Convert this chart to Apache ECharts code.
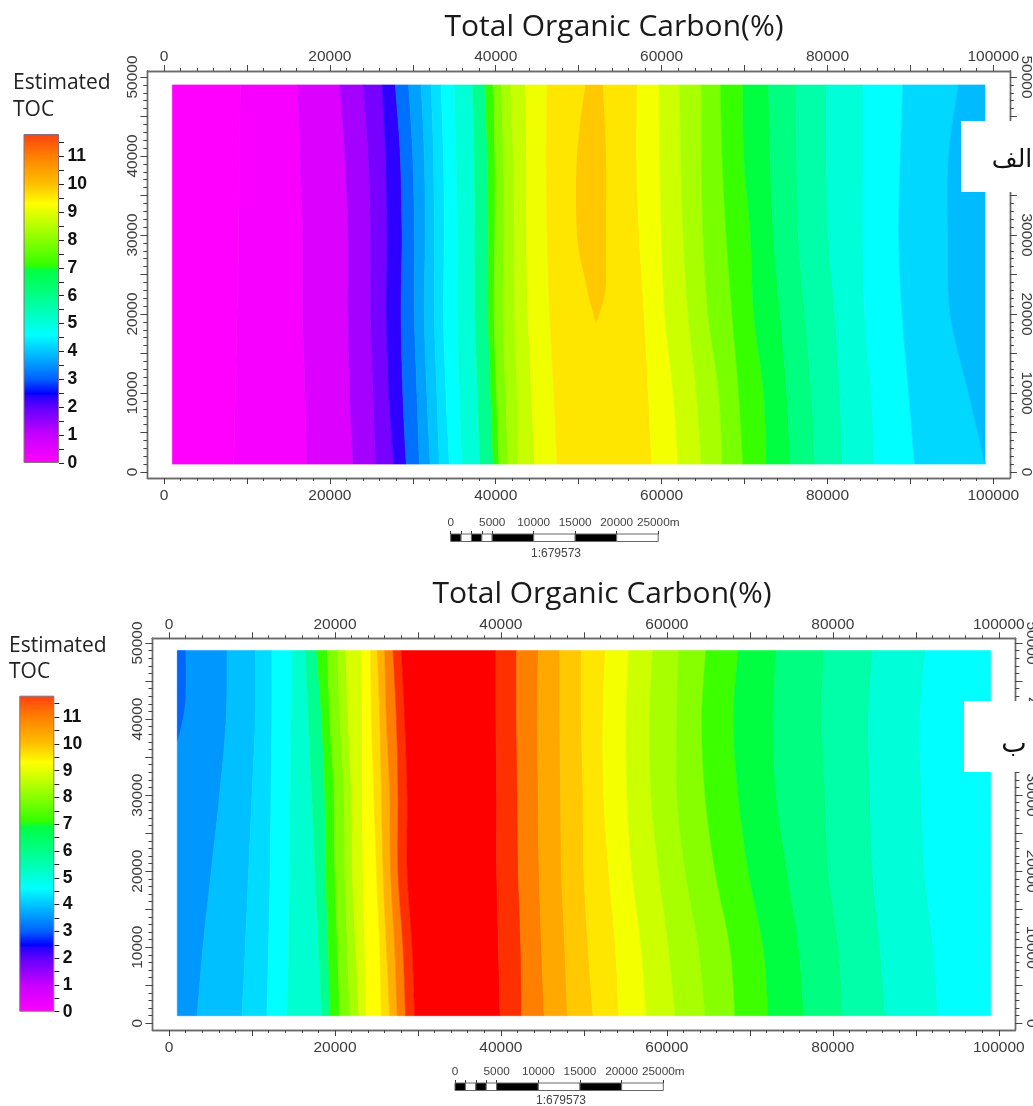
<!DOCTYPE html>
<html><head><meta charset="utf-8">
<style>html,body{margin:0;padding:0;background:#fff}#c{width:1033px;height:1106px}</style>
<script src="https://cdn.jsdelivr.net/npm/echarts@6/dist/echarts.min.js"></script>
</head><body><div id="c"></div>
<script>
// ---------- axis ticks ----------
const xTickLabels = [0,20000,40000,60000,80000,100000];
const xMajorTicks = [0,10000,20000,30000,40000,50000,60000,70000,80000,90000,100000];
const yTickLabels = [0,10000,20000,30000,40000,50000];
const yMajorTicks = [0,5000,10000,15000,20000,25000,30000,35000,40000,45000,50000];
const xMinorTicks = []; for (let v = 0; v <= 100000; v += 2000) xMinorTicks.push(v);
const yMinorTicks = []; for (let v = 0; v <= 50000; v += 1000) yMinorTicks.push(v);
const legendLabels = [0,1,2,3,4,5,6,7,8,9,10,11];
const legendTicks = [0,0.5,1,1.5,2,2.5,3,3.5,4,4.5,5,5.5,6,6.5,7,7.5,8,8.5,9,9.5,10,10.5,11,11.5];
const legendTop = 11.8;
const legendStopValues = [0,1,2,2.42,2.48,3,3.7,4.6,6,6.9,7.1,8,8.7,9.3,10,11,11.8];
const legendStopColors = ['#ff00ff','#c800ff','#6000ff','#2000ff','#0000ff','#0060ff','#00a8ff','#00ffff','#00ff88','#00ff44','#33ff00','#88ff00','#c8ff00','#ffff00','#ffc000','#ff8000','#ff4010'];
const scaleEdges = [0,1250,2500,3750,5000,10000,15000,20000,25000];
const scaleFills = ['#000','#fff','#000','#fff','#000','#fff','#000','#fff'];
const scaleLabels = [0,5000,10000,15000,20000,25000];
const scaleTicks = [0,1250,2500,3750,5000,10000,15000,20000,25000];

// ---------- contour rows ----------
const contourRows = [1000,10000,20000,30000,40000,49000];
const xStart = [1000,1000,1000,1000,1000,1000];
const xEnd = [99000,99000,99000,99000,99000,99000];

// ---------- panel A (top) band colours and boundaries ----------
const colorsA = ['#ff00ff','#f800ff','#dc00ff','#a500ff','#7700ff','#2d00ff','#0070ff','#00a0ff','#00c4ff','#00e0ff','#00ffff','#00ffd8','#00ff90','#33ff00','#80ff00','#a8ff00','#c8ff00','#f0ff00','#ffe600','#f4ff00','#ccff00','#a8ff00','#78ff00','#38ff00','#00ff40','#00ff80','#00ffa8','#00ffd8','#00ffff','#00d8ff','#00bcff'];
const edgesA = [
 xStart,
 [8400,8600,8800,9000,9100,9200],
 [17200,17000,16700,16700,16400,16100],
 [22800,22400,22200,22200,21800,21200],
 [25500,25200,24900,24900,24600,24000],
 [27700,27100,26800,26900,26700,26300],
 [29200,28800,28600,28700,28500,27900],
 [30800,30500,30200,30200,30000,29500],
 [32100,31700,31400,31500,31400,31000],
 [33200,32900,32600,32600,32500,32200],
 [34400,34000,33700,33800,33700,33400],
 [35900,35600,35400,35400,35200,35000],
 [38100,37800,37500,37500,37400,37200],
 [39700,39400,39100,39100,39000,38700],
 [40400,40100,39800,39900,39900,39700],
 [41500,41200,40900,41000,40900,40700],
 [42700,42600,42300,42300,42100,41800],
 [44700,44300,43900,43700,43700,43600],
 [47400,47000,46500,46200,46100,46200],
 [58800,58400,57900,57300,57000,57100],
 [62000,61400,60400,60000,59800,59700],
 [64800,64200,63200,62600,62300,62200],
 [67300,66900,65600,65000,64800,64800],
 [69800,69300,68500,67800,67300,67100],
 [72600,72300,71100,70700,69900,69800],
 [75500,75100,74300,73500,73100,72900],
 [78500,78100,77300,76500,76300,76200],
 [81800,81500,80900,80100,79900,79900],
 [85700,85300,84500,84300,84300,84300],
 [90500,89800,89000,88600,88800,89100],
 [99000,97000,94800,94500,94600,95800],
 xEnd
];
const lensAColor = '#ffc800';
const lensARows = [18800,21800,24300,30000,40000,49000];
const lensALeft = [52100,51300,50800,49800,49800,50800];
const lensARight = [52100,53000,53300,53300,53300,52900];

// ---------- panel B (bottom) band colours and boundaries ----------
const colorsB = ['#0098ff','#00c0ff','#00dcff','#00ffff','#00ffd0','#00ff90','#33ff00','#80ff00','#a8ff00','#d8ff00','#ffff00','#ffdc00','#ffb000','#ff8000','#ff3000','#ff0000','#ff3000','#ff8000','#ffa800','#ffc800','#ffe600','#f4ff00','#ccff00','#a8ff00','#88ff00','#3cff00','#00ff40','#00ff80','#00ffa8','#00ffd8','#00ffff'];
const edgesB = [
 xStart,
 [3400,4100,5100,6100,6900,7000],
 [8800,9200,9600,10000,10400,10400],
 [11800,12000,12200,12300,12400,12400],
 [14200,14400,14500,14600,14700,14800],
 [18400,18000,17600,17200,16800,16400],
 [19400,19200,18900,18800,18400,17800],
 [20600,20300,20000,19900,19400,19100],
 [21800,21500,21200,21100,20600,20300],
 [22900,22500,22100,22000,21600,21300],
 [23800,23600,23400,23300,23300,23200],
 [25600,25400,25000,24700,24400,24300],
 [26600,26200,25800,25600,25400,25100],
 [27500,27200,26700,26600,26200,26000],
 [28500,28200,27600,27600,27400,27000],
 [29600,29300,28700,28700,28400,28000],
 [39900,39700,39500,39500,39400,39400],
 [42500,42400,42100,42000,41900,41900],
 [45200,44900,44600,44500,44400,44500],
 [48000,47700,47300,47200,47100,47100],
 [51100,50500,50000,49900,49700,49700],
 [54200,53800,53000,52400,52300,52600],
 [57500,56900,55800,55200,55100,55400],
 [61000,60200,59000,58100,57900,58300],
 [64600,63800,62200,61200,61200,61400],
 [68200,67600,65800,64600,64200,64700],
 [72200,71600,69800,68600,68000,68600],
 [76500,75900,74500,73200,72800,73200],
 [81200,80700,79500,79100,78700,78900],
 [86300,85700,84800,84500,84300,84800],
 [92700,92100,91100,90700,90500,91200],
 xEnd
];
const lensBColor = '#0064ff';
const lensBRows = [37000,40000,43000,49000];
const lensBLeft = [1000,1000,1000,1000];
const lensBRight = [1000,1650,2000,2000];

const titleText = 'Total Organic Carbon(%)';
const legendTitle = ['Estimated','TOC'];
const scaleRatio = '1:679573';
const panelMarks = ['الف','ب'];

// ---------- builders ----------
const chart = echarts.init(document.getElementById('c'), null, {renderer:'canvas'});
const AXC = '#6a6a6a', TXC = '#3c3c3c', NUMF = 'Liberation Sans', TF = '"Open Sans"';
const xAxes = [], yAxes = [], grids = [], series = [];

function axis(kind, grid, pos, min, max, ticks, len, labels, rotate, margin) {
  const o = {
    type:'value', gridIndex:grid, position:pos, min, max, scale:false,
    splitLine:{show:false}, minorTick:{show:false},
    axisLine:{show:true, onZero:false, lineStyle:{color:AXC, width:1.4}},
    axisTick:{show:true, inside:false, length:len, customValues:ticks, lineStyle:{color:'#444', width:1}},
    axisLabel: labels ? {show:true, customValues:labels, margin:margin, rotate:rotate||0, color:TXC, fontFamily:NUMF, fontSize:15.5, formatter:v=>String(v), showMinLabel:true, showMaxLabel:true, hideOverlap:false}
                      : {show:false}
  };
  (kind==='x'?xAxes:yAxes).push(o);
  return (kind==='x'?xAxes:yAxes).length-1;
}

// Catmull-Rom drawing of a contour edge through its read rows
function curve(xs, ys, api) {
  const out = [], n = ys.length;
  for (let k = 0; k < n-1; k++) {
    const p0 = k>0?k-1:k, p3 = k+2<n?k+2:k+1;
    const steps = Math.max(2, Math.round((ys[k+1]-ys[k])/1000));
    for (let s = 0; s < steps; s++) {
      const t = s/steps, t2 = t*t, t3 = t2*t;
      const f = (a,b,c,d)=>0.5*(2*b+(c-a)*t+(2*a-5*b+4*c-d)*t2+(3*b-a-3*c+d)*t3);
      out.push(api.coord([f(xs[p0],xs[k],xs[k+1],xs[p3]), f(ys[p0],ys[k],ys[k+1],ys[p3])]));
    }
  }
  out.push(api.coord([xs[n-1],ys[n-1]]));
  return out;
}

function panel(g, left, width, top, height, ymin, ymax, colors, edges, lensColor, lensRows, lensL, lensR) {
  grids.push({left, top, width, height, containLabel:false, outerBoundsMode:'none'});
  const xi = axis('x', g, 'bottom', -2000, 102000, xMajorTicks, 6, xTickLabels, 0, 9.5);
  axis('x', g, 'top', -2000, 102000, xMajorTicks, 6, xTickLabels, 0, 6);
  axis('x', g, 'bottom', -2000, 102000, xMinorTicks, 3);
  axis('x', g, 'top', -2000, 102000, xMinorTicks, 3);
  const yi = axis('y', g, 'left', ymin, ymax, yMajorTicks, 7, yTickLabels, 90, 7);
  axis('y', g, 'right', ymin, ymax, yMajorTicks, 7, yTickLabels, -90, 8);
  axis('y', g, 'left', ymin, ymax, yMinorTicks, 4);
  axis('y', g, 'right', ymin, ymax, yMinorTicks, 4);
  series.push({
    type:'custom', coordinateSystem:'cartesian2d', xAxisIndex:xi, yAxisIndex:yi, silent:true, z:2, clip:false,
    data: colors.map((c,i)=>[i]), encode:{x:[],y:[]},
    renderItem:(p, api)=>{
      const i = api.value(0);
      const pts = curve(edges[i], contourRows, api).concat(curve(edges[i+1], contourRows, api).reverse());
      return {type:'polygon', shape:{points:pts}, style:{fill:colors[i], stroke:colors[i], lineWidth:0.6}};
    }
  });
  series.push({
    type:'custom', coordinateSystem:'cartesian2d', xAxisIndex:xi, yAxisIndex:yi, silent:true, z:3, clip:false,
    data:[[0]], encode:{x:[],y:[]},
    renderItem:(p, api)=>{
      const pts = curve(lensL, lensRows, api).concat(curve(lensR, lensRows, api).reverse());
      return {type:'polygon', shape:{points:pts}, style:{fill:lensColor}};
    }
  });
}

function legendBar(left, width, top, height) {
  const g = grids.length;
  grids.push({left, top, width, height, outerBoundsMode:'none'});
  xAxes.push({type:'category', gridIndex:g, data:['TOC'], show:false});
  const xi = xAxes.length-1;
  const yi = axis('y', g, 'right', 0, legendTop, legendTicks, 5);
  const y = yAxes[yi];
  y.axisLine.show = false;
  y.axisTick.lineStyle = {color:'#222', width:1};
  y.axisLabel = {show:true, customValues:legendLabels, margin:8.5, color:'#111', fontFamily:NUMF, fontSize:17.5, fontWeight:'bold', formatter:v=>String(v)};
  series.push({
    type:'bar', xAxisIndex:xi, yAxisIndex:yi, barWidth:'100%', silent:true, data:[legendTop],
    itemStyle:{borderColor:'#8a6f78', borderWidth:1,
      color:new echarts.graphic.LinearGradient(0,1,0,0, legendStopValues.map((v,i)=>({offset:v/legendTop, color:legendStopColors[i]})))}
  });
}

function scaleBar(left, width, top, height) {
  const g = grids.length;
  grids.push({left, top, width, height, outerBoundsMode:'none'});
  const xi = axis('x', g, 'top', 0, 25000, scaleTicks, 3);
  const xa = xAxes[xi];
  xa.axisLine.show = false;
  xa.axisTick.lineStyle = {color:'#333', width:1};
  xa.axisLabel = {show:true, customValues:scaleLabels, margin:5, color:'#444', fontFamily:NUMF, fontSize:11.8,
    formatter:v=> v===25000 ? v+'m' : String(v)};
  yAxes.push({type:'value', gridIndex:g, min:0, max:1, show:false});
  const yi = yAxes.length-1;
  series.push({
    type:'custom', coordinateSystem:'cartesian2d', xAxisIndex:xi, yAxisIndex:yi, silent:true, clip:false,
    data: scaleFills.map((c,i)=>[i]), encode:{x:[],y:[]},
    renderItem:(p, api)=>{
      const i = api.value(0), a = api.coord([scaleEdges[i],1]), b = api.coord([scaleEdges[i+1],0]);
      return {type:'rect', shape:{x:a[0], y:a[1], width:b[0]-a[0], height:b[1]-a[1]}, style:{fill:scaleFills[i], stroke:'#666', lineWidth:1}};
    }
  });
}

panel(0, 147.4, 862.5, 71, 407, -760, 50760, colorsA, edgesA, lensAColor, lensARows, lensALeft, lensARight);
panel(1, 152.4, 863, 638.3, 391.7, -880, 50620, colorsB, edgesB, lensBColor, lensBRows, lensBLeft, lensBRight);
legendBar(23.5, 35.5, 134, 329);
legendBar(19.3, 35, 695.7, 316);
scaleBar(450.7, 207.5, 534, 7.5);
scaleBar(455, 208.3, 1083, 7.5);

function txt(text, x, y, size, family, color, align) {
  return {type:'text', z:50, x, y, style:{text, fontSize:size, fontFamily:family, fill:color, textAlign:align||'left', textVerticalAlign:'middle'}};
}
const graphics = [
  {type:'rect', z:40, shape:{x:961, y:121, width:72, height:71}, style:{fill:'#fff'}},
  {type:'rect', z:40, shape:{x:964, y:701, width:69, height:71}, style:{fill:'#fff'}},
  txt(titleText, 614, 27, 30, TF, '#1a1a1a', 'center'),
  txt(titleText, 602, 594, 30, TF, '#1a1a1a', 'center'),
  txt(legendTitle[0], 13, 83, 21, TF, '#222'),
  txt(legendTitle[1], 13, 110, 21, TF, '#222'),
  txt(legendTitle[0], 9, 646, 21, TF, '#222'),
  txt(legendTitle[1], 9, 672, 21, TF, '#222'),
  txt(scaleRatio, 556, 554, 12, NUMF, '#444', 'center'),
  txt(scaleRatio, 561, 1101, 12, NUMF, '#444', 'center'),
  txt(panelMarks[0], 1012, 160, 25, '"DejaVu Sans"', '#111', 'center'),
  txt(panelMarks[1], 1014, 745, 27, '"DejaVu Sans"', '#111', 'center')
];

chart.setOption({animation:false, backgroundColor:'#fff', grid:grids, xAxis:xAxes, yAxis:yAxes, series, graphic:{elements:graphics}});
</script></body></html>
